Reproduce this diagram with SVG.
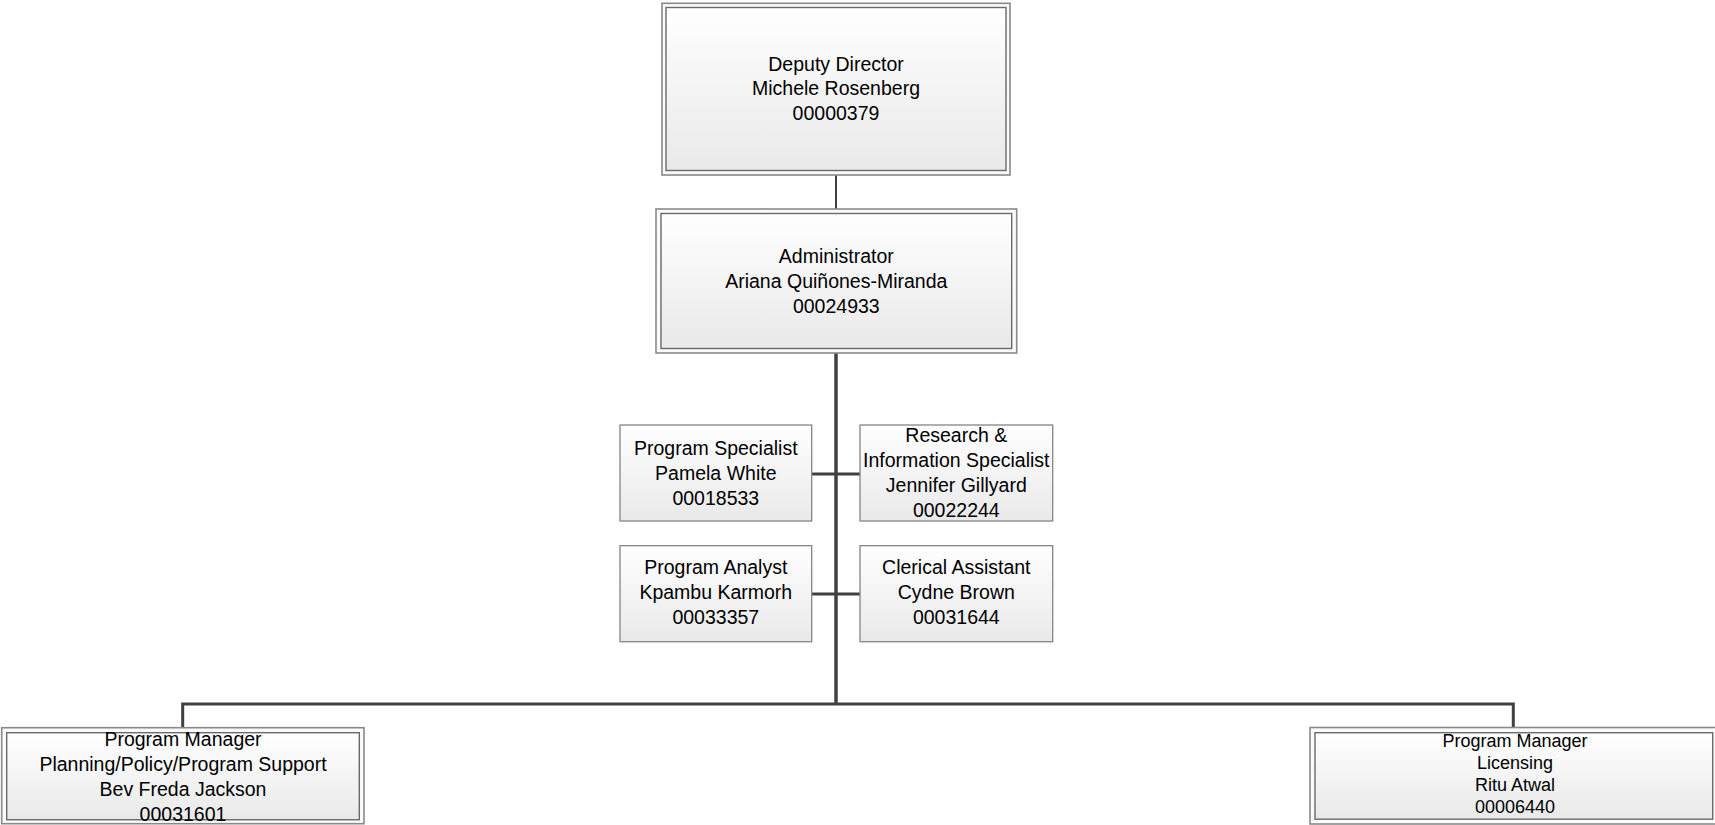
<svg xmlns="http://www.w3.org/2000/svg" width="1715" height="825" viewBox="0 0 1715 825">
<defs>
<linearGradient id="g" x1="0" y1="0" x2="0" y2="1">
<stop offset="0" stop-color="#ffffff"/>
<stop offset="1" stop-color="#e9e9e9"/>
</linearGradient>
<style>
.outer{fill:#fafafa;stroke:#8a8a8a;stroke-width:1.6}
.inner{fill:url(#g);stroke:#6a6a6a;stroke-width:1.4}
.single{fill:url(#g);stroke:#858585;stroke-width:1.3}
.t{font-family:"Liberation Sans",Arial,sans-serif;font-size:19.5px;fill:#000;text-anchor:middle}
.ts{font-family:"Liberation Sans",Arial,sans-serif;font-size:18px;fill:#000;text-anchor:middle}
.c{stroke:#404040;fill:none}
</style>
</defs>
<rect width="1715" height="825" fill="#ffffff"/>
<g id="connectors">
<line class="c" x1="836" y1="175" x2="836" y2="209" stroke-width="2"/>
<line class="c" x1="836" y1="353" x2="836" y2="705" stroke-width="3.5"/>
<line class="c" x1="811.7" y1="474" x2="860" y2="474" stroke-width="3"/>
<line class="c" x1="811.7" y1="594" x2="860" y2="594" stroke-width="3"/>
<polyline class="c" points="182.7,727.5 182.7,704 1513.3,704 1513.3,727.5" stroke-width="3"/>
</g>
<g id="deputy-director">
<rect class="outer" x="662" y="3.3" width="348" height="171.7"/>
<rect class="inner" x="666" y="7.5" width="340" height="163"/>
<text class="t" x="836" y="71">Deputy Director</text>
<text class="t" x="836" y="95.3">Michele Rosenberg</text>
<text class="t" x="836" y="119.6">00000379</text>
</g>
<g id="administrator">
<rect class="outer" x="656" y="209" width="360.7" height="144"/>
<rect class="inner" x="661" y="213.5" width="350.7" height="135"/>
<text class="t" x="836.3" y="263">Administrator</text>
<text class="t" x="836.3" y="288">Ariana Quiñones-Miranda</text>
<text class="t" x="836.3" y="313">00024933</text>
</g>
<g id="program-specialist">
<rect class="single" x="620" y="425" width="191.7" height="96"/>
<text class="t" x="715.8" y="455">Program Specialist</text>
<text class="t" x="715.8" y="480">Pamela White</text>
<text class="t" x="715.8" y="505">00018533</text>
</g>
<g id="research-specialist">
<rect class="single" x="860" y="425" width="192.7" height="96"/>
<text class="t" x="956.3" y="441.7">Research &amp;</text>
<text class="t" x="956.3" y="466.7">Information Specialist</text>
<text class="t" x="956.3" y="491.7">Jennifer Gillyard</text>
<text class="t" x="956.3" y="516.7">00022244</text>
</g>
<g id="program-analyst">
<rect class="single" x="620" y="545.7" width="191.7" height="96"/>
<text class="t" x="715.8" y="574.3">Program Analyst</text>
<text class="t" x="715.8" y="599.3">Kpambu Karmorh</text>
<text class="t" x="715.8" y="624.3">00033357</text>
</g>
<g id="clerical-assistant">
<rect class="single" x="860" y="545.7" width="192.7" height="96"/>
<text class="t" x="956.3" y="574.3">Clerical Assistant</text>
<text class="t" x="956.3" y="599.3">Cydne Brown</text>
<text class="t" x="956.3" y="624.3">00031644</text>
</g>
<g id="program-manager-planning">
<rect class="outer" x="1.7" y="727.7" width="362.3" height="96"/>
<rect class="inner" x="6.7" y="732.7" width="352.6" height="87"/>
<text class="t" x="183" y="745.5">Program Manager</text>
<text class="t" x="183" y="770.8">Planning/Policy/Program Support</text>
<text class="t" x="183" y="796.1">Bev Freda Jackson</text>
<text class="t" x="183" y="821.4">00031601</text>
</g>
<g id="program-manager-licensing">
<rect class="outer" x="1310" y="727.5" width="410" height="96.5"/>
<rect class="inner" x="1315" y="732.7" width="397.7" height="86.5"/>
<text class="ts" x="1515" y="746.7">Program Manager</text>
<text class="ts" x="1515" y="769">Licensing</text>
<text class="ts" x="1515" y="791">Ritu Atwal</text>
<text class="ts" x="1515" y="813.3">00006440</text>
</g>
</svg>
